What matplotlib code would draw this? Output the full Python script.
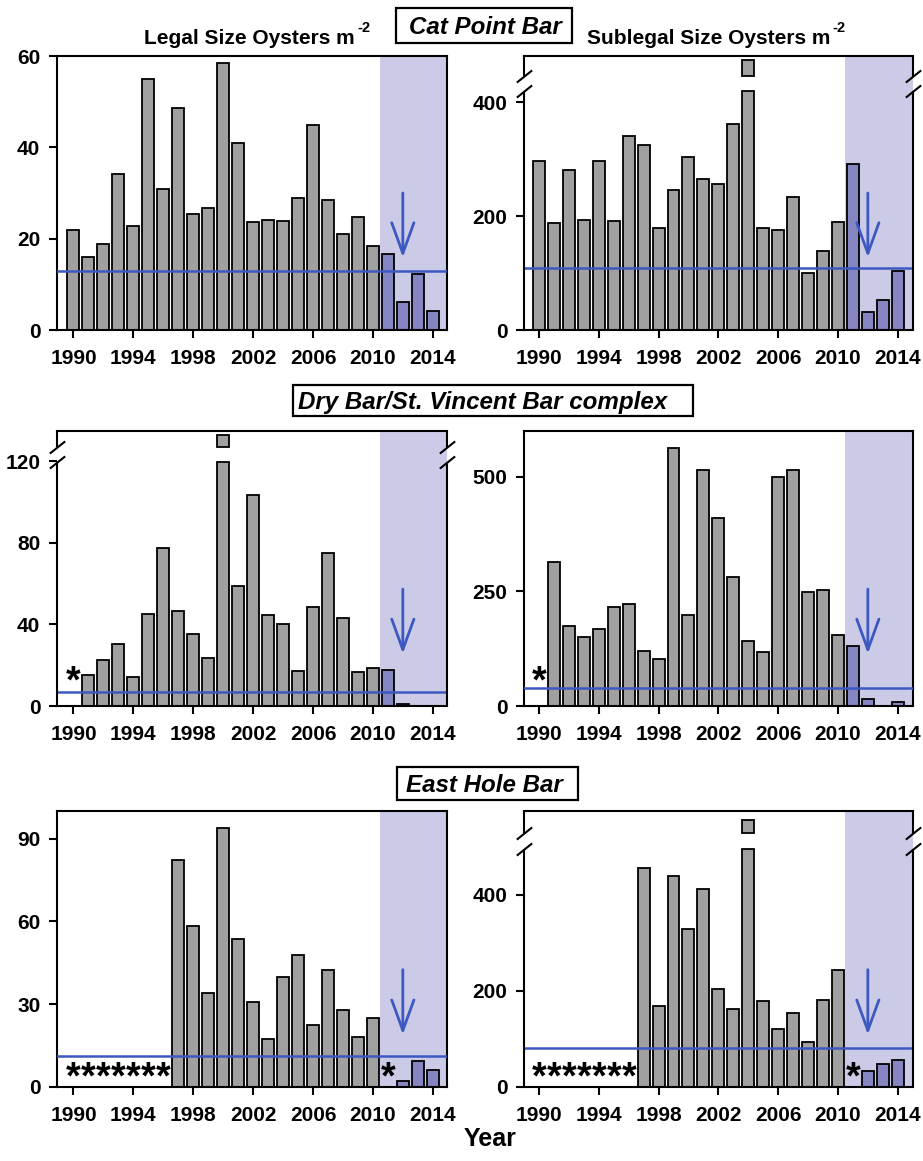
import numpy as np
import matplotlib.pyplot as plt
import matplotlib.transforms as mtransforms
from matplotlib.patches import Rectangle

plt.rcParams['font.family'] = ['Liberation Sans', 'DejaVu Sans']
plt.rcParams['font.weight'] = 'bold'

years = list(range(1990, 2015))

# oysters per m2, None = not sampled (asterisk)
cat_legal = [21.8, 15.9, 18.8, 34.2, 22.8, 54.9, 30.9, 48.7, 25.3, 26.7, 58.5, 41.0, 23.7,
             24.1, 23.9, 28.9, 45.0, 28.5, 21.0, 24.8, 18.4, 16.6, 6.1, 12.2, 4.2]
cat_sublegal = [296, 187, 281, 193, 296, 192, 341, 324, 179, 246, 303, 265, 257,
                362, 600, 179, 176, 233, 100, 139, 189, 292, 32, 53, 104]
dry_legal = [None, 15.2, 22.5, 30.2, 14.0, 45.0, 77.5, 46.5, 35.1, 23.6, 140, 58.7, 103.2,
             44.8, 40.1, 17.1, 48.6, 75.0, 43.2, 16.8, 18.4, 17.6, 1.2, 0, 0]
dry_sublegal = [None, 315, 174, 151, 169, 215, 223, 121, 103, 562, 198, 516, 411,
                281, 142, 118, 499, 514, 249, 254, 154, 132, 16, 0, 8]
east_legal = [None] * 7 + [82.3, 58.4, 33.9, 93.8, 53.8, 30.8, 17.4, 39.7, 47.8, 22.6,
                           42.3, 27.8, 18.0, 25.0, None, 2.2, 9.3, 6.0]
east_sublegal = [None] * 7 + [456, 169, 439, 328, 411, 204, 162, 600, 179, 120,
                              154, 94, 181, 243, None, 33, 47, 56]

# blue reference line in each panel
ref_levels = [13, 108, 7, 38.5, 11.1, 81]

xtick_years = [1990, 1994, 1998, 2002, 2006, 2010, 2014]

GRAY = '#a0a0a0'
RECENT = '#8585c1'
SHADE = '#cbcbe7'
BLUE = '#3d58c0'

W, H = 923, 1161
fig = plt.figure(figsize=(W / 100, H / 100), dpi=100)


def px_axes(x0, y0, x1, y1):
    return fig.add_axes([x0 / W, 1 - y1 / H, (x1 - x0) / W, (y1 - y0) / H])


# (data, pixel box, xlim, ylim top, yticks, break (lo, hi, box top) or None)
panels = [
    (cat_legal, (57, 56, 447, 330), (1988.9, 2014.95), 60, [0, 20, 40, 60], None),
    (cat_sublegal, (524, 56, 913, 330), (1989.0, 2015.02), 481, [0, 200, 400], (419, 446, 474)),
    (dry_legal, (57, 431, 447, 706), (1988.9, 2014.95), 134.7, [0, 40, 80, 120], (119.5, 127, 132.6)),
    (dry_sublegal, (524, 431, 913, 706), (1989.0, 2015.02), 600, [0, 250, 500], None),
    (east_legal, (57, 811, 447, 1087), (1988.9, 2014.95), 100, [0, 30, 60, 90], None),
    (east_sublegal, (524, 811, 913, 1087), (1989.0, 2015.02), 574, [0, 200, 400], (496, 529, 555)),
]

# asterisk height in axes fraction for panels with missing years
star_y = [None, None, 0.085, 0.085, 0.03, 0.03]


def draw_break(ax, lo, hi, top):
    trans = mtransforms.blended_transform_factory(ax.transAxes, ax.transData)
    ax.spines['left'].set_visible(False)
    ax.spines['right'].set_visible(False)
    for x in (0, 1):
        ax.plot([x, x], [0, lo], transform=trans, color='black', lw=1.5, clip_on=False,
                solid_capstyle='butt', zorder=5)
        ax.plot([x, x], [hi, top], transform=trans, color='black', lw=1.5, clip_on=False,
                solid_capstyle='butt', zorder=5)
        ax.plot([x, x], [lo, hi], transform=trans, ls='none', marker=[(-1, -0.8), (1, 0.8)],
                ms=11, mec='black', mew=1.5, clip_on=False, zorder=5)


for i, (vals, box, xlim, ytop, yticks, brk) in enumerate(panels):
    ax = px_axes(*box)
    ax.set_xlim(*xlim)
    ax.set_ylim(0, ytop)
    ax.axvspan(2010.45, xlim[1] + 1, color=SHADE, lw=0, zorder=0)

    for yr, v in zip(years, vals):
        if v is None:
            continue
        c = RECENT if yr >= 2011 else GRAY
        h = v
        if brk is not None and v > brk[0]:
            h = brk[0]
            ax.bar(yr, brk[2] - brk[1], bottom=brk[1], width=0.8, color=c,
                   edgecolor='black', lw=1.3, zorder=2)
        ax.bar(yr, h, width=0.8, color=c, edgecolor='black', lw=1.3, zorder=2)

    ax.axhline(ref_levels[i], color=BLUE, lw=1.8, zorder=3)

    arrow_top = 0.50 if i < 2 else 0.425
    arrow_end = 0.265 if i < 2 else 0.19
    ax.annotate('', xy=(2012, arrow_end), xytext=(2012, arrow_top),
                xycoords=('data', 'axes fraction'), textcoords=('data', 'axes fraction'),
                arrowprops=dict(arrowstyle='->,head_length=2.2,head_width=0.8',
                                color=BLUE, lw=2, mutation_scale=10, shrinkA=0, shrinkB=0))

    if star_y[i] is not None:
        star_trans = mtransforms.blended_transform_factory(ax.transData, ax.transAxes)
        for yr, v in zip(years, vals):
            if v is None:
                ax.text(yr, star_y[i], '*', transform=star_trans, ha='center', va='center',
                        fontsize=27, fontweight='bold', zorder=4)

    ax.set_xticks(xtick_years)
    ax.set_yticks(yticks)
    ax.tick_params(direction='out', length=6, width=1.5, labelsize=15, pad=6,
                   top=False, right=False)
    ax.tick_params(axis='x', pad=8)
    for sp in ax.spines.values():
        sp.set_linewidth(1.5)
    if brk is not None:
        draw_break(ax, brk[0], brk[1], ytop)

# column headings: main text ends at x_end, superscript "-2" after it
headings = [('Legal Size Oysters m', 355), ('Sublegal Size Oysters m', 830)]
for text, x_end in headings:
    fig.text(x_end / W, 1 - 36 / H, text, ha='right', va='center_baseline',
             fontsize=15, fontweight='bold')
    fig.text((x_end + 2) / W, 1 - 27 / H, '-2', ha='left', va='center_baseline',
             fontsize=10.5, fontweight='bold')

# site boxes: (label, box left, top, right, bottom, text left)
sites = [('Cat Point Bar', 396, 8, 572, 43, 409),
         ('Dry Bar/St. Vincent Bar complex', 293, 385, 693, 416, 298),
         ('East Hole Bar', 397, 767, 578, 800, 406)]
for label, bx0, by0, bx1, by1, tx in sites:
    fig.patches.append(Rectangle((bx0 / W, 1 - by1 / H), (bx1 - bx0) / W, (by1 - by0) / H,
                                 transform=fig.transFigure, fc='white', ec='black', lw=1.6))
    fig.text(tx / W, 1 - (by0 + by1) / 2 / H, label, ha='left', va='center_baseline',
             fontsize=17.4, fontweight='bold', style='italic')

fig.text(490 / W, 1 - 1139 / H, 'Year', ha='center', va='center', fontsize=18, fontweight='bold')

fig.savefig('out.png', dpi=100)
